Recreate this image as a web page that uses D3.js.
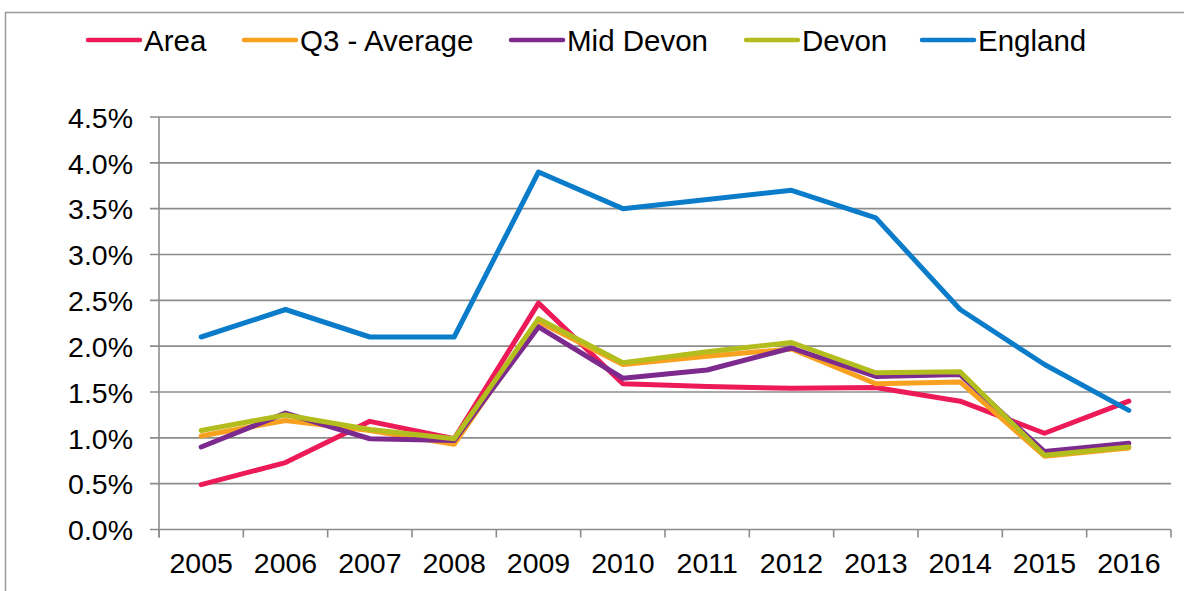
<!DOCTYPE html>
<html>
<head>
<meta charset="utf-8">
<script src="https://cdn.jsdelivr.net/npm/d3@7"></script>
<style>
  html, body { margin: 0; padding: 0; background: #fff; }
  svg { display: block; font-family: "Liberation Sans", Arial, sans-serif; }
</style>
</head>
<body>
<svg id="chart" width="1184" height="591"></svg>
<script>
// Years on the category axis
const years = ["2005","2006","2007","2008","2009","2010","2011","2012","2013","2014","2015","2016"];

// Series values, in percent
const area     = [0.49, 0.73, 1.18, 0.99, 2.47, 1.59, 1.56, 1.54, 1.55, 1.40, 1.05, 1.40];
const q3Avg    = [1.02, 1.19, 1.08, 0.93, 2.27, 1.80, 1.89, 1.97, 1.59, 1.61, 0.80, 0.89];
const midDevon = [0.90, 1.27, 0.99, 0.97, 2.21, 1.65, 1.74, 1.98, 1.67, 1.69, 0.85, 0.94];
const devon    = [1.08, 1.25, 1.09, 0.99, 2.30, 1.82, 1.94, 2.04, 1.71, 1.72, 0.81, 0.90];
const england  = [2.1, 2.4, 2.1, 2.1, 3.9, 3.5, 3.6, 3.7, 3.4, 2.4, 1.8, 1.3];

// Value axis ticks
const yTicks = [0, 0.5, 1.0, 1.5, 2.0, 2.5, 3.0, 3.5, 4.0, 4.5];

const seriesNames  = ["Area", "Q3 - Average", "Mid Devon", "Devon", "England"];
const seriesValues = [area, q3Avg, midDevon, devon, england];
const seriesColors = ["#EC1A57", "#F8A01F", "#7D2A8E", "#B3BD1E", "#0A7CC9"];

const svg = d3.select("#chart");

// Outer frame of the chart
svg.append("rect")
  .attr("x", 5.5).attr("y", 12.5)
  .attr("width", 1200).attr("height", 620)
  .attr("fill", "none").attr("stroke", "#9a9a9a").attr("stroke-width", 1.5);

const plot = { left: 159, right: 1171, top: 117, bottom: 529.5 };

const x = d3.scaleBand().domain(years).range([plot.left, plot.right]).padding(0);
const y = d3.scaleLinear().domain([0, 4.5]).range([plot.bottom, plot.top]);

const gridColor = "#8c8c8c";
const axisFont = 28.5;
const legendFont = 29.5;

// Horizontal gridlines
svg.append("g")
  .selectAll("line")
  .data(yTicks)
  .join("line")
  .attr("x1", plot.left - 9).attr("x2", plot.right)
  .attr("y1", d => y(d)).attr("y2", d => y(d))
  .attr("stroke", gridColor).attr("stroke-width", 1.6);

// Value axis labels
const yAxis = d3.axisLeft(y)
  .tickValues(yTicks)
  .tickSize(0)
  .tickPadding(0)
  .tickFormat(d => d.toFixed(1) + "%");
const gy = svg.append("g").attr("transform", `translate(${plot.left - 26},0)`).call(yAxis);
gy.select(".domain").remove();
gy.selectAll("text")
  .attr("font-size", axisFont).attr("fill", "#000")
  .attr("font-family", "Liberation Sans, Arial, sans-serif")
  .attr("dy", "0.36em");

// Vertical axis line
svg.append("line")
  .attr("x1", plot.left).attr("x2", plot.left)
  .attr("y1", plot.top).attr("y2", plot.bottom + 8)
  .attr("stroke", gridColor).attr("stroke-width", 1.6);

// Category axis: tick marks at band edges, labels centred in bands
const edges = years.map(d => x(d)).concat([plot.right]);
svg.append("g")
  .selectAll("line")
  .data(edges)
  .join("line")
  .attr("x1", d => d).attr("x2", d => d)
  .attr("y1", plot.bottom).attr("y2", plot.bottom + 8)
  .attr("stroke", gridColor).attr("stroke-width", 1.6);

const xAxis = d3.axisBottom(x).tickSize(0).tickPadding(0);
const gx = svg.append("g").attr("transform", `translate(0,${plot.bottom + 23})`).call(xAxis);
gx.select(".domain").remove();
gx.selectAll("text")
  .attr("font-size", axisFont).attr("fill", "#000")
  .attr("font-family", "Liberation Sans, Arial, sans-serif")
  .attr("dy", "0.71em");

// Series lines
const line = d3.line()
  .x((d, i) => x(years[i]) + x.bandwidth() / 2)
  .y(d => y(d));

svg.append("g")
  .selectAll("path")
  .data(seriesValues)
  .join("path")
  .attr("d", d => line(d))
  .attr("fill", "none")
  .attr("stroke", (d, i) => seriesColors[i])
  .attr("stroke-width", 5)
  .attr("stroke-linejoin", "round")
  .attr("stroke-linecap", "round");

// Legend
const legendX = [88, 244, 511, 746, 922];
const legend = svg.append("g")
  .selectAll("g")
  .data(seriesNames)
  .join("g")
  .attr("transform", (d, i) => `translate(${legendX[i]},40)`);
legend.append("line")
  .attr("x1", 0).attr("x2", 52)
  .attr("y1", 0).attr("y2", 0)
  .attr("stroke", (d, i) => seriesColors[i])
  .attr("stroke-width", 4.5)
  .attr("stroke-linecap", "round");
legend.append("text")
  .attr("x", 56).attr("y", 0).attr("dy", "0.36em")
  .attr("font-size", legendFont).attr("fill", "#000")
  .text(d => d);
</script>
</body>
</html>
